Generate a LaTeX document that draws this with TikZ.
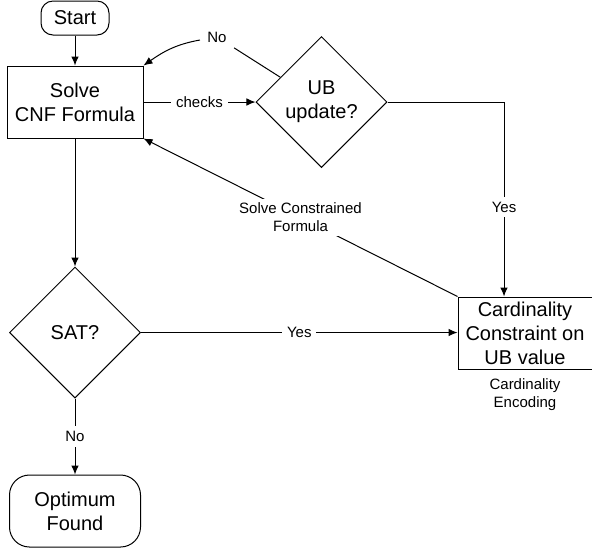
\documentclass[tikz,border=0pt]{standalone}
\usepackage{fontspec}
\setmainfont{Liberation Sans}
\usetikzlibrary{positioning,arrows.meta,shapes.geometric}

\begin{document}
\begin{tikzpicture}[x=0.5pt, y=-0.5pt, line width=0.5pt,
    every node/.style={font=\fontsize{10}{12}\selectfont}]
  \tikzset{
    term/.style={draw, rounded corners=6pt, minimum width=34pt, minimum height=17pt, inner sep=0pt, align=center},
    proc/.style={draw, minimum width=68pt, minimum height=36pt, inner sep=0pt, align=center},
    decision/.style={draw, diamond, aspect=1, minimum width=65.5pt, minimum height=65.5pt, inner sep=0pt, align=center},
    lbl/.style={fill=white, inner sep=2.5pt, align=center, font=\fontsize{7.5}{9}\selectfont},
    arr/.style={-{Latex[length=4.5pt, width=3.8pt]}}
  }
  \useasboundingbox (0,0) rectangle (592,548);
  \node[term] (start) at (75,18) {Start};
  \node[proc, below=15pt of start] (solve) {Solve\\CNF Formula};
  \node[decision, right=56pt of solve] (ub) {UB\\update?};
  \node[decision, below=64pt of solve] (sat) {SAT?};
  \node[term, rounded corners=10pt, minimum width=65.5pt, minimum height=36pt, below=38pt of sat] (opt) {Optimum\\Found};
  \node[proc, minimum width=67pt] (card) at (525,333) {Cardinality\\Constraint on\\UB value};
  \node[lbl, fill=none, below=2pt of card] (enc) {Cardinality\\Encoding};
  \node[lbl, inner sep=3.5pt] (no) at (217,37) {No};

  \draw[arr] (start) -- (solve);
  \draw[arr] (solve) -- (ub) node[lbl, midway] {checks};
  \draw (ub.149) -- (no);
  \draw[arr] (no) to[out=190, in=35] (solve.north east);
  \draw[arr] (ub.east) -| ([xshift=-10.5pt]card.north) node[lbl, pos=0.77] {Yes};
  \draw[arr] (card.north west) -- (solve.south east) node[lbl, midway, inner sep=2pt] {Solve Constrained\\Formula};
  \draw[arr] (solve) -- (sat);
  \draw[arr] (sat.east) -- (sat.east -| card.west) node[lbl, midway] {Yes};
  \draw[arr] (sat) -- (opt) node[lbl, midway] {No};
\end{tikzpicture}
\end{document}
